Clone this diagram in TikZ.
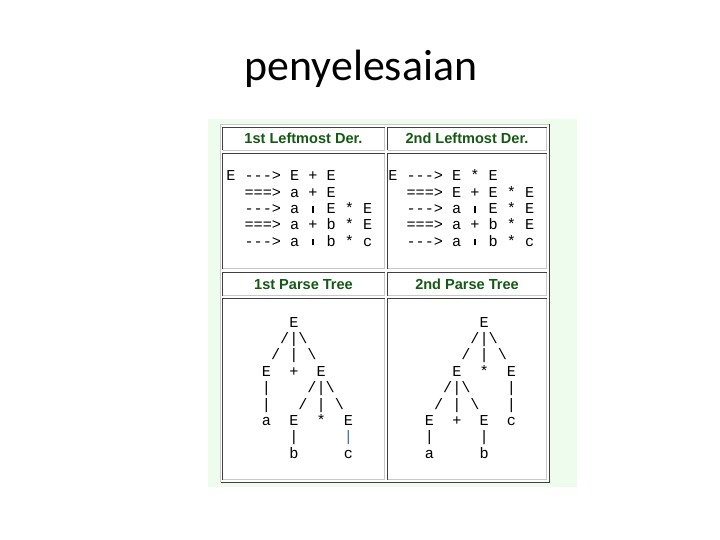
\documentclass[tikz,border=0pt]{standalone}
\usepackage{fontspec}
\setmainfont{Liberation Sans}
\setmonofont{Liberation Mono}
\newfontfamily\titlefont{Carlito}
\definecolor{panelgreen}{HTML}{EDFCEC}
\definecolor{headgreen}{HTML}{145A14}
\definecolor{edgedark}{HTML}{404040}
\definecolor{edgelight}{HTML}{C8C8C8}
\definecolor{barblue}{HTML}{3A6EA5}
\tikzset{
  headtxt/.style = {anchor=base, inner sep=0pt, text=headgreen,
    font=\fontsize{14.6}{16}\selectfont\bfseries},
  monotxt/.style = {anchor=base west, inner sep=0pt,
    font=\fontsize{15.25}{16.4}\selectfont\ttfamily}
}
\newcommand\gap[1]{\hspace*{\dimexpr #1em*3/5\relax}}
\newcommand\tick{\makebox[0.6em]{\rule[0.05em]{0.08em}{0.42em}}}
\newcommand\inset[4]{%
  \fill[white] (#1,#2) rectangle (#3,#4);
  \draw[edgelight] (#1,#4) -- (#3,#4) -- (#3,#2);
  \draw[edgedark]  (#1,#4) -- (#1,#2) -- (#3,#2);
}

\begin{document}
\begin{tikzpicture}[x=1bp,y=-1bp,line width=1bp]
  \fill[white] (0,0) rectangle (720,540);
  \useasboundingbox (0,0) rectangle (720,540);

  \node[font=\titlefont\fontsize{44}{48}\selectfont,anchor=base] (title) at (361,81) {penyelesaian};

  % panel and table frame
  \fill[panelgreen] (208,119) rectangle (577,487);
  \fill[white] (220,124) rectangle (549,482);
  \draw[edgelight] (220.5,482) -- (220.5,124.5) -- (549,124.5);
  \draw[edgedark]  (220.5,482.5) -- (549.5,482.5) -- (549.5,124.5);
  \foreach \xa/\xb in {222.5/384.5, 387.5/546.5}
    \foreach \ya/\yb in {127.5/150.5, 153.5/268.5, 272.5/295.5, 298.5/479.5}
      {\inset{\xa}{\ya}{\xb}{\yb}}

  % headers
  \node[headtxt] (head1) at (303.5,144) {1st Leftmost Der.};
  \node[headtxt] (head2) at (467,144)   {2nd Leftmost Der.};
  \node[headtxt] (head3) at (303.5,289) {1st Parse Tree};
  \node[headtxt] (head4) at (467,289)   {2nd Parse Tree};

  % derivations
  \foreach \row [count=\i from 0] in {
      {E~--->~E~+~E},
      {\gap{2}===>~a~+~E},
      {\gap{2}--->~a~\tick~E~*~E},
      {\gap{2}===>~a~+~b~*~E},
      {\gap{2}--->~a~\tick~b~*~c}}
    \node[monotxt] (da-\i) at (225.8,181+16.3*\i) {\row};
  \foreach \row [count=\i from 0] in {
      {E~--->~E~*~E},
      {\gap{2}===>~E~+~E~*~E},
      {\gap{2}--->~a~\tick~E~*~E},
      {\gap{2}===>~a~+~b~*~E},
      {\gap{2}--->~a~\tick~b~*~c}}
    \node[monotxt] (db-\i) at (387.8,181+16.3*\i) {\row};

  % parse trees
  \foreach \row [count=\i from 0] in {
      {\gap{3}E},
      {\gap{2}/|\textbackslash},
      {\gap{1}/~|~\textbackslash},
      {E~~+~~E},
      {|~~~~/|\textbackslash},
      {|~~~/~|~\textbackslash},
      {a~~E~~*~~E},
      {\gap{3}|~~~~~\textcolor{barblue}{|}},
      {\gap{3}b~~~~~c}}
    \node[monotxt] (ta-\i) at (261.4,327+16.4*\i) {\row};
  \foreach \row [count=\i from 0] in {
      {\gap{6}E},
      {\gap{5}/|\textbackslash},
      {\gap{4}/~|~\textbackslash},
      {\gap{3}E~~*~~E},
      {\gap{2}/|\textbackslash~~~~|},
      {\gap{1}/~|~\textbackslash~~~|},
      {E~~+~~E~~c},
      {|~~~~~|},
      {a~~~~~b}}
    \node[monotxt] (tb-\i) at (424.4,327+16.4*\i) {\row};
\end{tikzpicture}
\end{document}
